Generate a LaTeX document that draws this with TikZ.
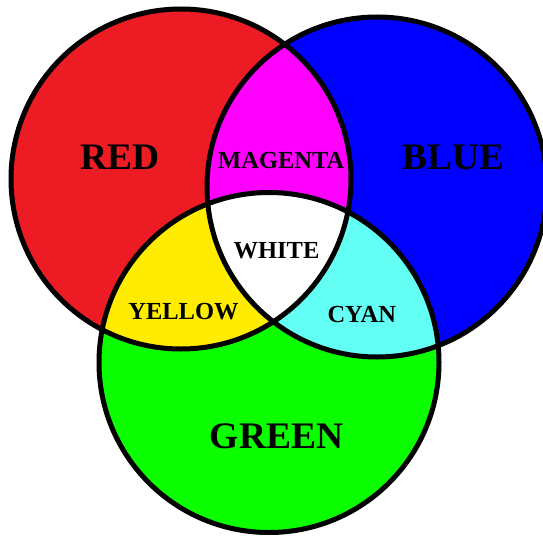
\documentclass[tikz,border=0pt]{standalone}
\usepackage{fontspec}
\setmainfont{Liberation Serif}
\definecolor{cred}{RGB}{237,28,36}
\definecolor{cblue}{RGB}{0,0,255}
\definecolor{cgreen}{RGB}{12,255,0}
\definecolor{cyellow}{RGB}{255,236,0}
\definecolor{ccyan}{RGB}{100,255,244}
\definecolor{cmagenta}{RGB}{255,0,255}
\tikzset{
  ring/.style={draw=black,line width=5pt},
  biglabel/.style={inner sep=0pt,font=\bfseries\fontsize{37.5}{40}\selectfont},
  smalllabel/.style={inner sep=0pt,font=\bfseries\fontsize{24.5}{27}\selectfont}
}
\begin{document}
\begin{tikzpicture}[x=1pt,y=-1pt]
\useasboundingbox (0,0) rectangle (543,535);
\clip (0,0) rectangle (543,535);
\coordinate (R) at (181,179);
\coordinate (B) at (377,187);
\coordinate (G) at (269,362.5);
\def\rr{170}\def\rb{170}\def\rg{170}
% base fills
\fill[cred] (R) circle[radius=\rr];
\fill[cblue] (B) circle[radius=\rb];
\fill[cgreen] (G) circle[radius=\rg];
% pairwise overlaps
\begin{scope}
  \clip (R) circle[radius=\rr];
  \fill[cmagenta] (B) circle[radius=\rb];
  \fill[cyellow] (G) circle[radius=\rg];
\end{scope}
\begin{scope}
  \clip (B) circle[radius=\rb];
  \fill[ccyan] (G) circle[radius=\rg];
\end{scope}
\begin{scope}
  \clip (R) circle[radius=\rr];
  \clip (B) circle[radius=\rb];
  \fill[white] (G) circle[radius=\rg];
\end{scope}
% outlines
\draw[ring] (R) circle[radius=\rr];
\draw[ring] (B) circle[radius=\rb];
\draw[ring] (G) circle[radius=\rg];
% labels
\node[biglabel] (lred) at (120.3,157.5) {RED};
\node[biglabel] (lblue) at (453.6,157.5) {BLUE};
\node[biglabel] (lgreen) at (276.5,436.3) {GREEN};
\node[smalllabel] (lmagenta) at (281.3,160.5) {MAGENTA};
\node[smalllabel] (lwhite) at (276.5,251) {WHITE};
\node[smalllabel] (lyellow) at (183.5,311.6) {YELLOW};
\node[smalllabel] (lcyan) at (361.8,315) {CYAN};
\end{tikzpicture}
\end{document}
